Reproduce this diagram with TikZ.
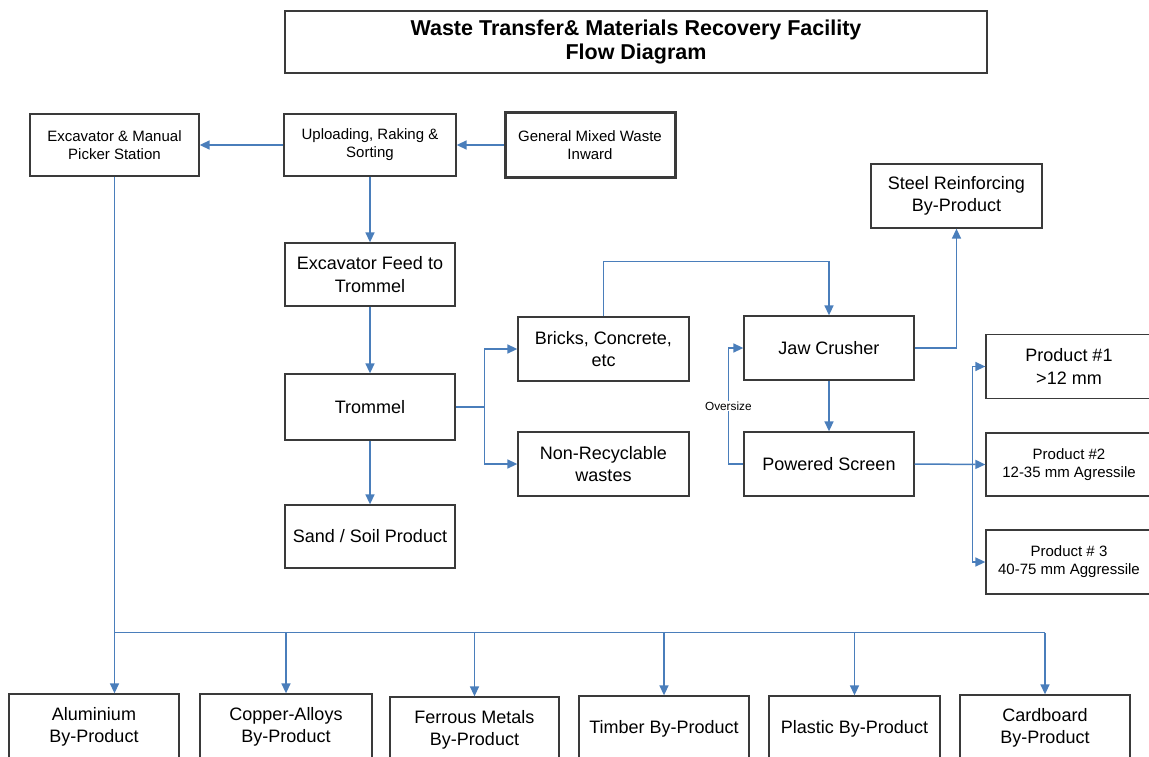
\documentclass[tikz,border=0pt]{standalone}
\usepackage{fontspec}
\setmainfont{Liberation Sans}
\usetikzlibrary{arrows.meta,calc}
\definecolor{flowblue}{HTML}{4A7EBB}
\definecolor{boxline}{HTML}{3A3A3A}

\begin{document}
\begin{tikzpicture}[x=1pt,y=-1pt,
  box/.style={draw=boxline,line width=1.3pt,fill=white,inner sep=1pt,align=center,
    minimum width=171pt,minimum height=64pt},
  big/.style={font=\fontsize{18}{22.5}\selectfont},
  small/.style={font=\fontsize{15}{18}\selectfont},
  prod/.style={box,minimum width=166pt,minimum height=64pt},
  flow/.style={draw=flowblue,line width=1.5pt,-{Triangle[length=10pt,width=9pt]}},
  line/.style={draw=flowblue,line width=1.5pt}]

\useasboundingbox (0,0) rectangle (1149,757);
\clip (0,0) rectangle (1149,757);

% Title
\node[box,minimum width=702pt,minimum height=62pt,font=\bfseries\fontsize{21.5}{24}\selectfont]
  (title) at (636,42) {Waste Transfer\& Materials Recovery Facility\\Flow Diagram};

% Intake row
\node[box,small,minimum width=169pt,minimum height=62pt] (pick) at (114.5,145) {Excavator \& Manual\\Picker Station};
\node[box,small,minimum width=172pt,minimum height=62pt] (unload) at (370,145) {Uploading, Raking \&\\Sorting};
\node[box,small,line width=3pt,minimum width=170pt,minimum height=65pt] (inward) at (590,145) {General Mixed Waste\\Inward};

% Trommel line
\node[box,big,minimum width=170pt,minimum height=63pt] (feed) at (370,274.5) {Excavator Feed to\\Trommel};
\node[box,big,minimum width=170pt,minimum height=66pt] (trommel) at (370,407) {Trommel};
\node[box,big,minimum width=170pt,minimum height=63pt] (sand) at (370,536.5) {Sand / Soil Product};

% Trommel outputs
\node[box,big] (bricks) at (603.5,349) {Bricks, Concrete,\\etc};
\node[box,big] (nonrec) at (603.5,464) {Non-Recyclable\\wastes};

% Crushing and screening
\node[box,big,minimum width=170pt] (jaw) at (829,348) {Jaw Crusher};
\node[box,big,minimum width=170pt] (screen) at (829,464) {Powered Screen};
\node[box,big] (steel) at (956.5,196) {Steel Reinforcing\\By-Product};

% Screened products (boxes run past the right edge)
\node[prod,big] (prodA) at (1069,366.5) {Product \#1\\>12 mm};
\node[prod,small,minimum height=63pt] (prodB) at (1069,464.5) {Product \#2\\12-35 mm Agressile};
\node[prod,small] (prodC) at (1069,562) {Product \# 3\\40-75 mm Aggressile};

% By-products (boxes run past the bottom edge)
\node[box,big,minimum width=170pt,minimum height=66pt] (alu) at (94,727) {Aluminium\\By-Product};
\node[box,big,minimum width=172pt,minimum height=66pt] (cop) at (286,727) {Copper-Alloys\\By-Product};
\node[box,big,minimum width=169pt,minimum height=66pt] (fer) at (474.5,730) {Ferrous Metals\\By-Product};
\node[box,big,minimum width=170pt,minimum height=66pt] (tim) at (664,729) {Timber By-Product};
\node[box,big,minimum width=171pt,minimum height=66pt] (pla) at (854.5,729) {Plastic By-Product};
\node[box,big,minimum width=170pt,minimum height=66pt] (car) at (1045,728) {Cardboard\\By-Product};

% Intake flow
\draw[flow] (inward) -- (unload);
\draw[flow] (unload) -- (pick);
\draw[flow] (unload) -- (feed);
\draw[flow] (feed) -- (trommel);
\draw[flow] (trommel) -- (sand);

% Trommel split
\coordinate (tsplit) at ($(trommel.east)+(29,0)$);
\draw[line] (trommel.east) -- (tsplit);
\draw[flow] (tsplit) |- (bricks.west);
\draw[flow] (tsplit) |- (nonrec.west);

% Bricks to crusher
\coordinate (bend) at ($(bricks.north)+(0,-55)$);
\draw[flow] (bricks.north) -- (bend) -| (jaw.north);
\draw[flow] (jaw) -- (screen);
\draw[flow] (jaw.east) -| (steel.south);

% Oversize return
\coordinate (over) at ($(screen.west)+(-15,0)$);
\draw[flow] (screen.west) -- (over) |- (jaw.west)
  node[pos=0.25,fill=white,inner sep=1pt,font=\fontsize{11.8}{13}\selectfont] {Oversize};

% Screen to products
\coordinate (pbus) at ($(screen.east)+(58,0)$);
\draw[flow] (screen.east) -- (prodB.west);
\draw[flow] (pbus) |- (prodA.west);
\draw[flow] (pbus) |- (prodC.west);

% Picker station to by-products
\coordinate (bbus) at ($(pick.south)+(0,456)$);
\draw[line] (bbus) -- (bbus -| car.north);
\draw[flow] (pick.south) -- (pick.south |- alu.north);
\foreach \b in {cop,fer,tim,pla,car}
  \draw[flow] (bbus -| \b.north) -- (\b.north);

\end{tikzpicture}
\end{document}
